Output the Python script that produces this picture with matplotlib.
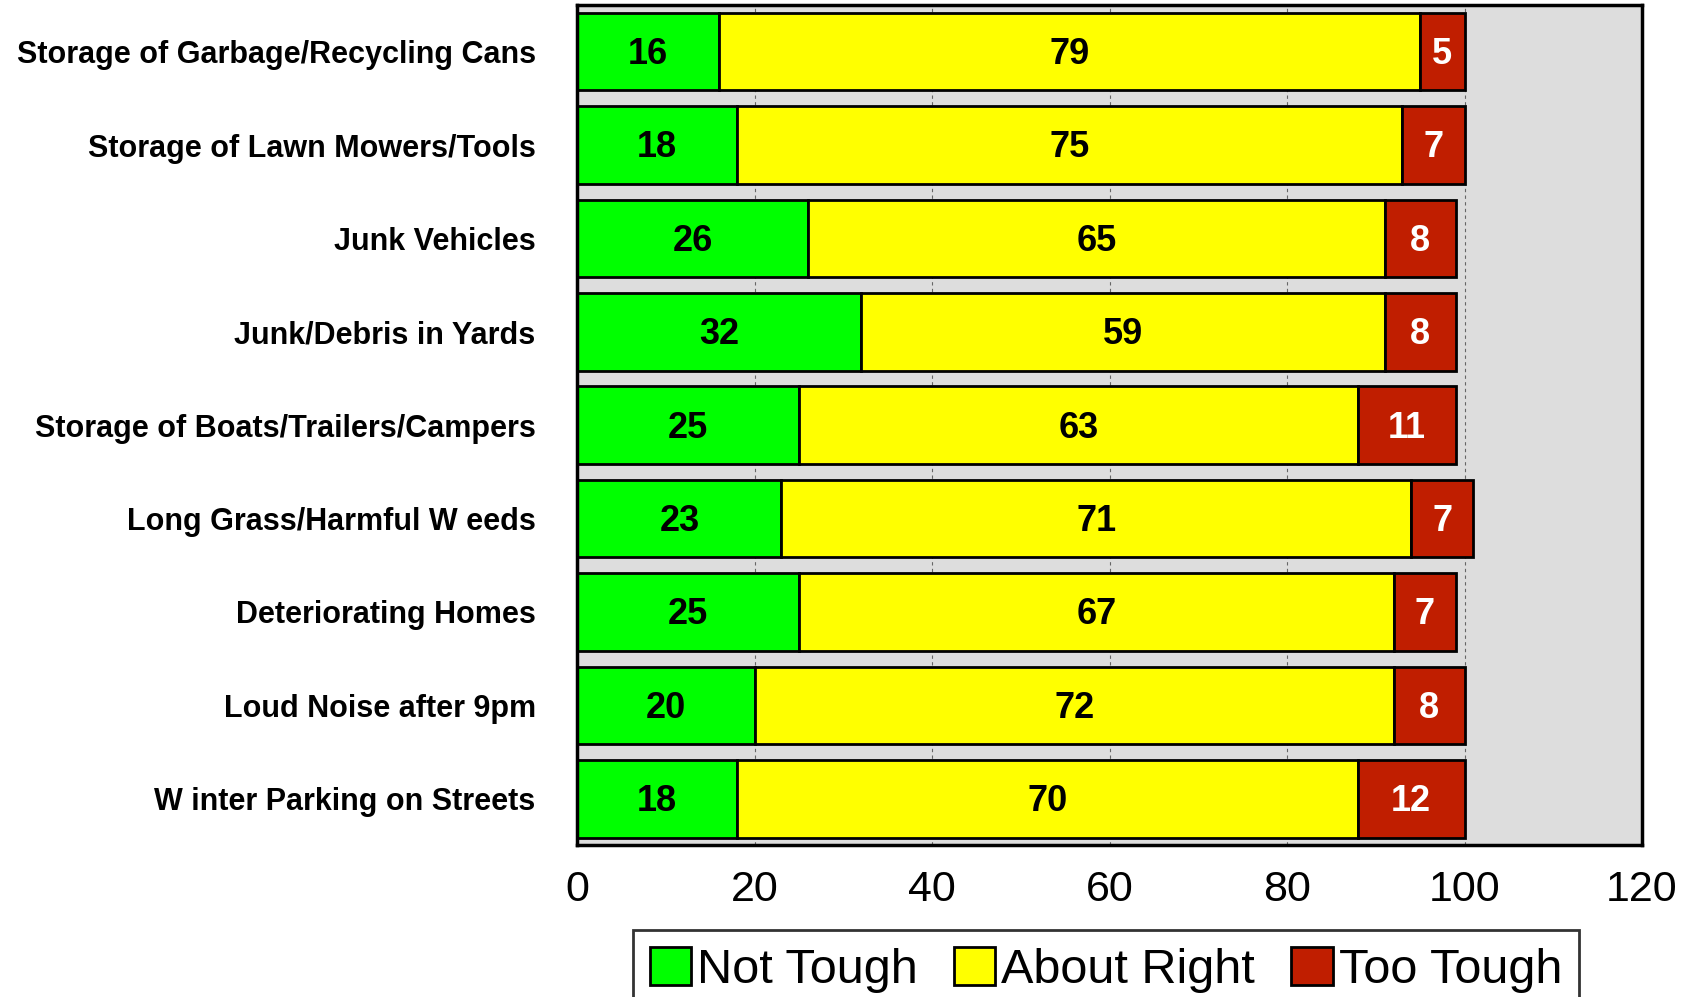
import numpy as np
import matplotlib.pyplot as plt

categories = ["Storage of Garbage/Recycling Cans", "Storage of Lawn Mowers/Tools",
              "Junk Vehicles", "Junk/Debris in Yards", "Storage of Boats/Trailers/Campers",
              "Long Grass/Harmful W eeds", "Deteriorating Homes", "Loud Noise after 9pm",
              "W inter Parking on Streets"]
not_tough = [16, 18, 26, 32, 25, 23, 25, 20, 18]
about_right = [79, 75, 65, 59, 63, 71, 67, 72, 70]
too_tough = [5, 7, 8, 8, 11, 7, 7, 8, 12]
series_names = ["Not Tough", "About Right", "Too Tough"]
colors = ["#00FF00", "#FFFF00", "#C01E00"]
text_colors = ["black", "black", "white"]

plt.rcParams['font.family'] = ['Liberation Sans', 'DejaVu Sans']

fig = plt.figure(figsize=(16.98, 9.97), dpi=100)
ax = fig.add_axes([0.340, 0.152, 0.627, 0.843])
ax.set_facecolor("#DDDDDD")

y = np.arange(len(categories))
left = np.zeros(len(categories))
for vals, name, c, tc in zip([not_tough, about_right, too_tough], series_names, colors, text_colors):
    vals = np.array(vals)
    ax.barh(y, vals, left=left, height=0.83, color=c, edgecolor="black",
            linewidth=2, label=name, zorder=3)
    for yi, l, v in zip(y, left, vals):
        ax.text(l + v / 2, yi + 0.03, str(v), ha="center", va="center", color=tc,
                fontsize=26, fontweight="bold", zorder=4)
    left = left + vals

ax.set_xlim(0, 120)
ax.set_ylim(len(categories) - 0.5, -0.5)
ax.set_xticks(range(0, 121, 20))
ax.tick_params(axis="x", length=0, labelsize=31, pad=18)
ax.tick_params(axis="y", length=0, pad=30)
ax.set_yticks(y)
ax.set_yticklabels(categories, fontsize=22, fontweight="bold")
ax.grid(axis="x", color="#666666", linestyle=(0, (3, 3)), linewidth=0.8, zorder=1)
for s in ax.spines.values():
    s.set_linewidth(2.5)
    s.set_zorder(5)

leg = ax.legend(loc="upper left", bbox_to_anchor=(0.052, -0.1), borderaxespad=0,
                ncol=3, fontsize=35, frameon=True, fancybox=False, edgecolor="black",
                handlelength=0.85, handleheight=0.85, handletextpad=0.12,
                columnspacing=0.75, borderpad=0.35)
leg.get_frame().set_linewidth(2)

fig.savefig("out.png", dpi=100)
